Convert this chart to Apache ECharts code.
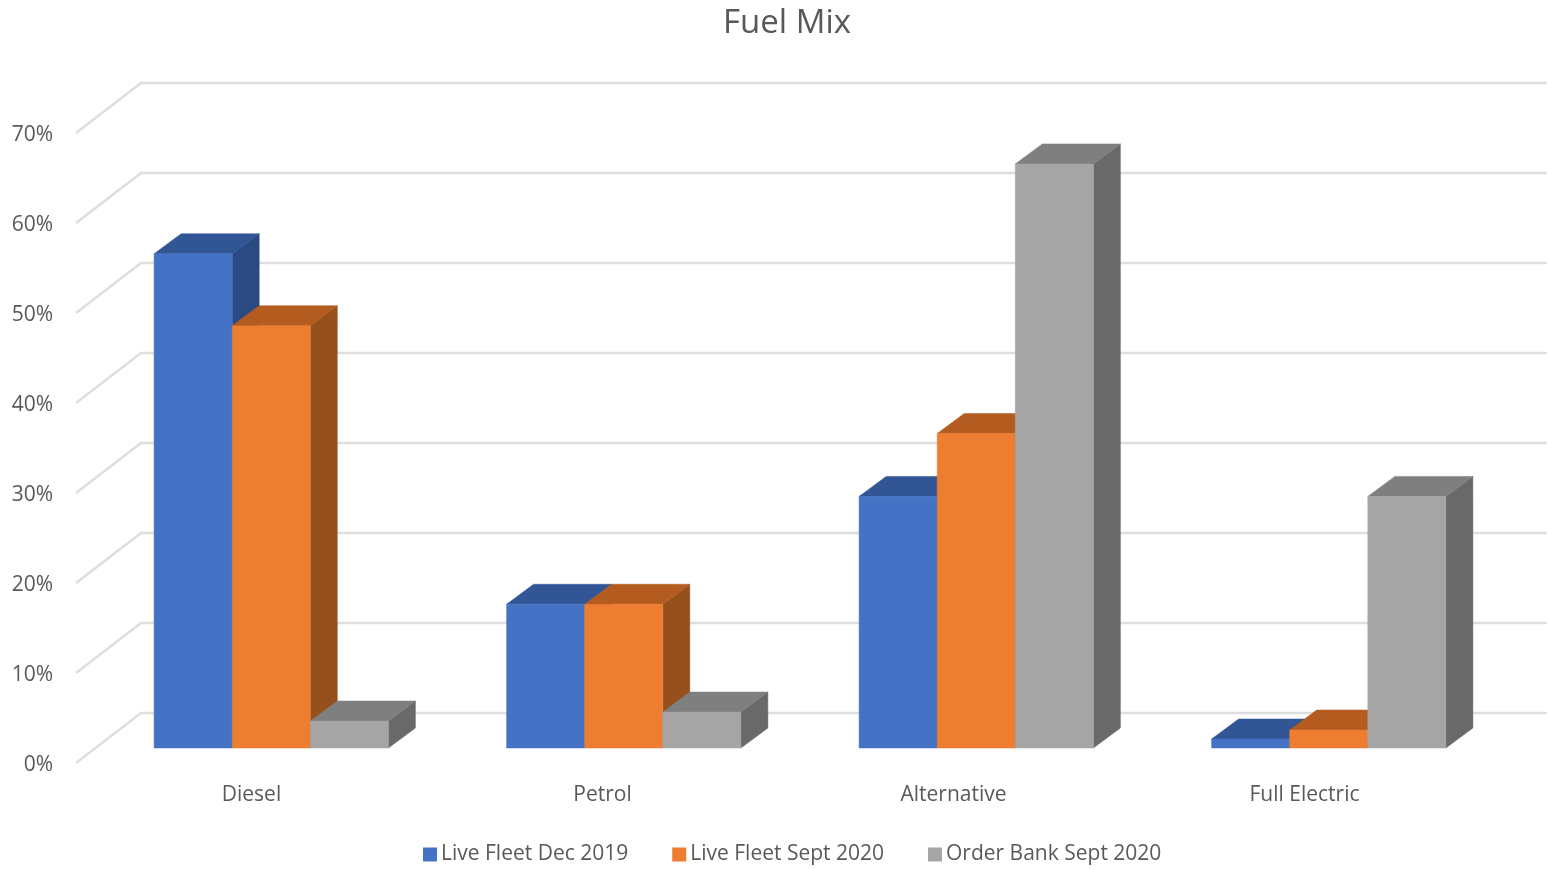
<!DOCTYPE html>
<html>
<head>
<meta charset="utf-8">
<title>Fuel Mix</title>
<script src="https://cdn.jsdelivr.net/npm/echarts@6/dist/echarts.min.js"></script>
<style>
  html, body { margin: 0; padding: 0; background: #fff; }
  #chart { width: 1548px; height: 869px; }
</style>
</head>
<body>
<div id="chart"></div>
<script>
const categories = ['Diesel', 'Petrol', 'Alternative', 'Full Electric']
const liveFleetDec2019 = [55, 16, 28, 1]
const liveFleetSept2020 = [47, 16, 35, 2]
const orderBankSept2020 = [3, 4, 65, 28]
const gridTicks = [0, 10, 20, 30, 40, 50, 60, 70]

const TEXT = '#595959'
const FONT = '"Open Sans", "Noto Sans", sans-serif'

// oblique projection of the chart box, in px
const WALL_DX = 65, WALL_DY = 50
const BAR_DX = 27, BAR_DY = 20
const BAR_WIDTH = 78.1

const chart = echarts.init(document.getElementById('chart'))

// 3d column: front, top and side faces
function makeColumn(seriesIdx, front, top, side) {
  return (params, api) => {
    const base = api.coord([api.value(0), 0])
    const head = api.coord([api.value(0), api.value(1)])
    const x0 = base[0] + (seriesIdx - 1.5) * BAR_WIDTH
    const x1 = x0 + BAR_WIDTH
    const poly = (points, fill) => ({
      type: 'polygon',
      shape: { points },
      style: { fill, stroke: fill, lineWidth: 0.5 }
    })
    return {
      type: 'group',
      children: [
        poly([[x1, base[1]], [x1 + BAR_DX, base[1] - BAR_DY], [x1 + BAR_DX, head[1] - BAR_DY], [x1, head[1]]], side),
        poly([[x0, head[1]], [x0 + BAR_DX, head[1] - BAR_DY], [x1 + BAR_DX, head[1] - BAR_DY], [x1, head[1]]], top),
        poly([[x0, base[1]], [x1, base[1]], [x1, head[1]], [x0, head[1]]], front)
      ]
    }
  }
}

// wall gridline with its slanted run down the side wall
function renderWallLine(params, api) {
  const p = api.coord([0, api.value(0)])
  const end = api.coord([1, api.value(0)])
  return {
    type: 'polyline',
    shape: { points: [[p[0] - WALL_DX, p[1] + WALL_DY], p, end] },
    style: { stroke: '#DEDEDE', lineWidth: 2.5, fill: null }
  }
}

const columnSeries = (name, values, idx, front, top, side) => ({
  name,
  type: 'custom',
  xAxisIndex: 0,
  yAxisIndex: 0,
  z: 3,
  itemStyle: { color: front },
  renderItem: makeColumn(idx, front, top, side),
  encode: { x: 0, y: 1 },
  data: values.map((v, i) => [i, v])
})

const option = {
  animation: false,
  backgroundColor: '#fff',
  textStyle: { fontFamily: FONT },
  title: {
    text: 'Fuel Mix',
    left: 782,
    top: 2,
    textAlign: 'center',
    textStyle: { color: TEXT, fontSize: 33, fontWeight: 'normal', fontFamily: FONT }
  },
  legend: {
    left: 418,
    top: 839,
    itemWidth: 14,
    itemHeight: 14,
    itemGap: 44,
    icon: 'rect',
    data: ['Live Fleet Dec 2019', 'Live Fleet Sept 2020', 'Order Bank Sept 2020'],
    textStyle: { color: TEXT, fontSize: 21, fontFamily: FONT, padding: [0, 0, 0, -1] }
  },
  grid: [
    { left: 95, width: 1410, top: 119, height: 629 },   // columns
    { left: 76, width: 1404, top: 135, height: 630 },   // front edge: axis labels
    { left: 141, width: 1406, top: 83, height: 630 }    // back wall
  ],
  xAxis: [
    { type: 'category', gridIndex: 0, data: categories, show: false },
    {
      type: 'category',
      gridIndex: 1,
      data: categories,
      axisLine: { show: false },
      axisTick: { show: false },
      axisLabel: { color: TEXT, fontSize: 21, fontFamily: FONT, margin: 20 }
    },
    { type: 'value', gridIndex: 2, min: 0, max: 1, show: false }
  ],
  yAxis: [
    { type: 'value', gridIndex: 0, min: 0, max: 70, interval: 10, show: false },
    {
      type: 'value',
      gridIndex: 1,
      min: 0,
      max: 70,
      interval: 10,
      axisLine: { show: false },
      axisTick: { show: false },
      splitLine: { show: false },
      axisLabel: { color: TEXT, fontSize: 21, fontFamily: FONT, margin: 23, formatter: '{value}%' }
    },
    { type: 'value', gridIndex: 2, min: 0, max: 70, interval: 10, show: false }
  ],
  series: [
    {
      type: 'custom',
      xAxisIndex: 2,
      yAxisIndex: 2,
      z: 1,
      silent: true,
      renderItem: renderWallLine,
      encode: { y: 0 },
      data: gridTicks.map(v => [v])
    },
    columnSeries('Live Fleet Dec 2019', liveFleetDec2019, 0, '#4472C4', '#315595', '#2B4A82'),
    columnSeries('Live Fleet Sept 2020', liveFleetSept2020, 1, '#ED7D31', '#B45C1F', '#95501C'),
    columnSeries('Order Bank Sept 2020', orderBankSept2020, 2, '#A5A5A5', '#7F7F7F', '#696969')
  ]
}

chart.setOption(option)
</script>
</body>
</html>
